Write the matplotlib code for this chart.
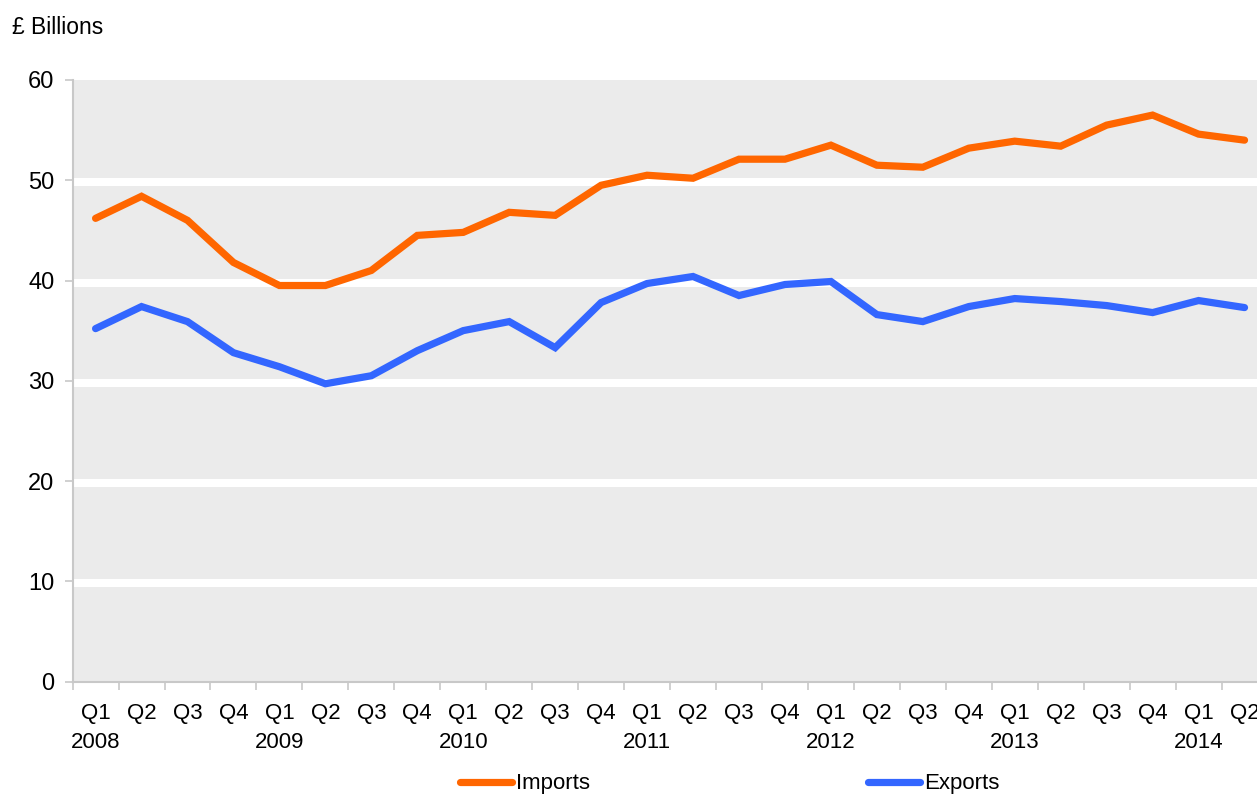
import matplotlib
matplotlib.use("Agg")
import matplotlib.pyplot as plt
import numpy as np

plt.rcParams['font.family'] = ['Liberation Sans', 'DejaVu Sans']

# quarterly trade, £ billions (Q1 2008 .. Q2 2014)
quarters = ['Q1', 'Q2', 'Q3', 'Q4'] * 6 + ['Q1', 'Q2']
years = ['2008', '2009', '2010', '2011', '2012', '2013', '2014']
imports = [46.2, 48.4, 46.0, 41.8, 39.5, 39.5, 41.0, 44.5, 44.8, 46.8, 46.5, 49.5,
           50.5, 50.2, 52.1, 52.1, 53.5, 51.5, 51.3, 53.2, 53.9, 53.4, 55.5, 56.5,
           54.6, 54.0]
exports = [35.2, 37.4, 35.9, 32.8, 31.4, 29.7, 30.5, 33.0, 35.0, 35.9, 33.3, 37.8,
           39.7, 40.4, 38.5, 39.6, 39.9, 36.6, 35.9, 37.4, 38.2, 37.9, 37.5, 36.8,
           38.0, 37.3]

W, H = 1257, 796
fig = plt.figure(figsize=(W / 100, H / 100), dpi=100)
# chart area runs a little past the right edge, as in the original
ax = fig.add_axes([72.6 / W, (H - 681.5) / H, (1267.5 - 72.6) / W, (681.5 - 80) / H])
ax.set_facecolor('#ebebeb')

x = np.arange(len(imports)) + 0.5
labels = []
for i, q in enumerate(quarters):
    if q == 'Q1':
        labels.append(q + '\n' + years[i // 4])
    else:
        labels.append(q + '\n ')

for g in range(10, 60, 10):
    ax.axhline(g - 0.2, color='white', lw=5.8, zorder=1)

ax.plot(x, imports, color='#ff6600', lw=5.2, solid_capstyle='round',
        solid_joinstyle='miter', label='Imports', zorder=3)
ax.plot(x, exports, color='#3366ff', lw=5.2, solid_capstyle='round',
        solid_joinstyle='miter', label='Exports', zorder=3)

ax.set_xlim(0, len(imports))
ax.set_ylim(0, 60)
ax.set_yticks(range(0, 61, 10))
ax.set_xticks(np.arange(0, len(imports) + 1))
ax.set_xticklabels([])
ax.set_xticks(x, minor=True)
ax.set_xticklabels(labels, minor=True, linespacing=1.5)
ax.tick_params(axis='x', which='minor', length=0, pad=15.5, labelsize=16)
ax.tick_params(axis='x', which='major', length=6, color='#c8c8c8', width=1.2)
ax.tick_params(axis='y', length=6, color='#c8c8c8', width=1.2, pad=7, labelsize=17)

for s in ['top', 'right']:
    ax.spines[s].set_visible(False)
for s in ['left', 'bottom']:
    ax.spines[s].set_color('#c8c8c8')
    ax.spines[s].set_linewidth(1.5)

fig.text(12 / W, 1 - 27 / H, '£ Billions', fontsize=16.5, va='center', ha='left')

fig.legend(loc='center left', bbox_to_anchor=(460 / W, 1 - 784 / H), ncol=2,
           frameon=False, fontsize=16, handlelength=2.35, handletextpad=0.18,
           columnspacing=12.5, borderaxespad=0, borderpad=0)

fig.savefig('out.png', dpi=100)
